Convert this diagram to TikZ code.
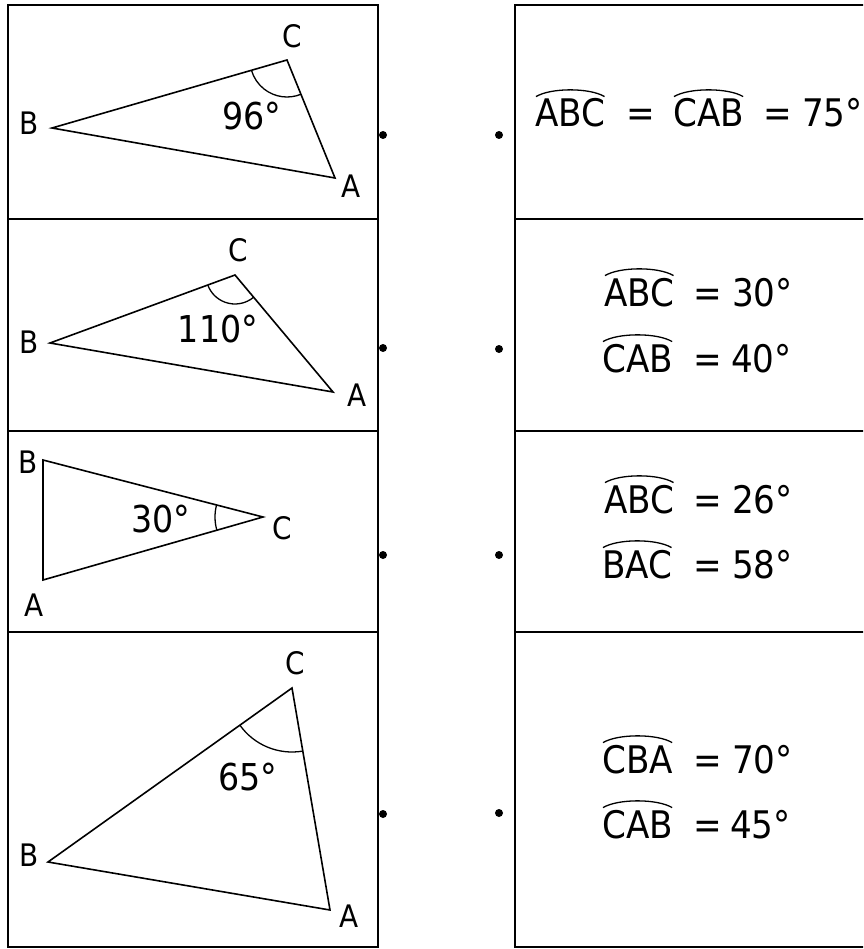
\documentclass[tikz,border=0pt]{standalone}
\usepackage{fontspec}
\newfontfamily\df[FakeStretch=0.9]{DejaVu Sans}
\usetikzlibrary{calc}
\tikzset{
  boxline/.style={line width=1.7pt},
  tri/.style={line width=1.6pt, line join=miter},
  angarc/.style={line width=1.3pt},
  vlab/.style={font=\df\fontsize{31}{33}\selectfont, inner sep=0pt},
  alab/.style={font=\df\fontsize{37}{40}\selectfont, inner sep=0pt, anchor=base},
  eqtxt/.style={font=\df\fontsize{38}{40}\selectfont, inner sep=0pt, anchor=base west},
  hatline/.style={line width=1.3pt},
  dotst/.style={circle, fill, inner sep=0pt, minimum size=8pt},
}
\begin{document}
\begin{tikzpicture}[x=1pt, y=-1pt]
\useasboundingbox (0,0) rectangle (863,949);
\clip (0,0) rectangle (863,949);
\fill[white] (0,0) rectangle (863,949);

% boxes
\draw[boxline] (8,5) rectangle (378,947);
\draw[boxline] (515,5) rectangle (880,947);
\foreach \yy in {219,431,632}{
  \draw[boxline] (8,\yy) -- (378,\yy);
  \draw[boxline] (515,\yy) -- (880,\yy);
}

% dots
\node[dotst] (l1) at (383,135) {};
\node[dotst] (r1) at (499,135) {};
\node[dotst] (l2) at (383,348) {};
\node[dotst] (r2) at (499,349) {};
\node[dotst] (l3) at (383,555) {};
\node[dotst] (r3) at (499,555) {};
\node[dotst] (l4) at (383,814) {};
\node[dotst] (r4) at (499,813) {};

% triangle 1
\coordinate (B1) at (52,128);
\coordinate (C1) at (287,60);
\coordinate (A1) at (335,178);
\draw[tri] (B1) -- (C1) -- (A1) -- cycle;
\draw[angarc] ($(C1)+(67.9:37)$) arc[start angle=67.9, end angle=163.9, radius=37];
\node[vlab] (tB1) at (29,123) {B};
\node[vlab] (tC1) at (292,36) {C};
\node[vlab] (tA1) at (351,186) {A};
\node[alab] (g1) at (252,130) {96°};

% triangle 2
\coordinate (B2) at (50,343);
\coordinate (C2) at (235,275);
\coordinate (A2) at (333,392);
\draw[tri] (B2) -- (C2) -- (A2) -- cycle;
\draw[angarc] ($(C2)+(50.0:29)$) arc[start angle=50.0, end angle=159.8, radius=29];
\node[vlab] (tB2) at (29,342) {B};
\node[vlab] (tC2) at (238,250) {C};
\node[vlab] (tA2) at (357,395) {A};
\node[alab] (g2) at (218,342) {110°};

% triangle 3
\coordinate (B3) at (43,460);
\coordinate (A3) at (43,580);
\coordinate (C3) at (263,517);
\draw[tri] (B3) -- (C3) -- (A3) -- cycle;
\draw[angarc] ($(C3)+(164.0:48)$) arc[start angle=164.0, end angle=194.5, radius=48];
\node[vlab] (tB3) at (28,462) {B};
\node[vlab] (tA3) at (34,605) {A};
\node[vlab] (tC3) at (282,528) {C};
\node[alab] (g3) at (161,532) {30°};

% triangle 4
\coordinate (B4) at (48,862);
\coordinate (C4) at (292,688);
\coordinate (A4) at (330,910);
\draw[tri] (B4) -- (C4) -- (A4) -- cycle;
\draw[angarc] ($(C4)+(80.3:64)$) arc[start angle=80.3, end angle=144.5, radius=64];
\node[vlab] (tB4) at (29,855) {B};
\node[vlab] (tC4) at (295,663) {C};
\node[vlab] (tA4) at (349,916) {A};
\node[alab] (g4) at (248,790) {65°};

% right column texts
\node[eqtxt] (n1a) at (535,127) {ABC};
\node[eqtxt] (e1a) at (626,127) {=};
\node[eqtxt] (n1b) at (673,127) {CAB};
\node[eqtxt] (e1b) at (763,127) {=};
\node[eqtxt] (v1) at (802,127) {75°};

\node[eqtxt] (n2a) at (604,306) {ABC};
\node[eqtxt] (e2a) at (693,306) {=};
\node[eqtxt] (v2a) at (732,306) {30°};
\node[eqtxt] (n2b) at (602,372) {CAB};
\node[eqtxt] (e2b) at (693,372) {=};
\node[eqtxt] (v2b) at (731,372) {40°};

\node[eqtxt] (n3a) at (604,513) {ABC};
\node[eqtxt] (e3a) at (693,513) {=};
\node[eqtxt] (v3a) at (732,513) {26°};
\node[eqtxt] (n3b) at (602,578) {BAC};
\node[eqtxt] (e3b) at (693,578) {=};
\node[eqtxt] (v3b) at (732,578) {58°};

\node[eqtxt] (n4a) at (602,773) {CBA};
\node[eqtxt] (e4a) at (693,773) {=};
\node[eqtxt] (v4a) at (732,773) {70°};
\node[eqtxt] (n4b) at (602,838) {CAB};
\node[eqtxt] (e4b) at (693,838) {=};
\node[eqtxt] (v4b) at (730,838) {45°};

\foreach \n in {n1a,n1b,n2a,n2b,n3a,n3b,n4a,n4b}{
  \draw[hatline] ($(\n.north west)+(1,-2)$) .. controls ($(\n.north west)+(16,-11)$) and ($(\n.north east)+(-16,-11)$) .. ($(\n.north east)+(-1,-2)$);
}
\end{tikzpicture}
\end{document}
